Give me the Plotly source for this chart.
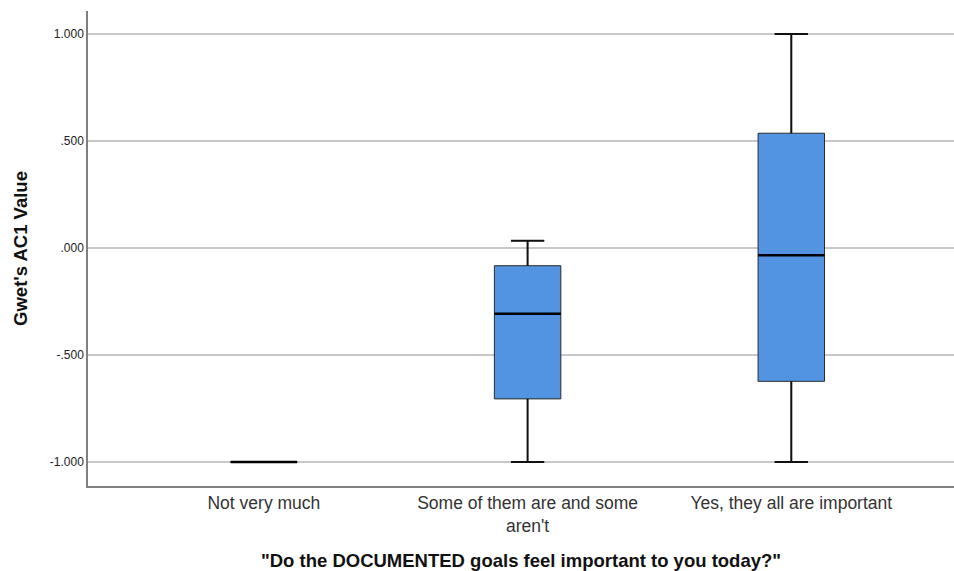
import plotly.graph_objects as go

# Response categories on the x axis
categories = ["Not very much", "Some of them are and some<br>aren't", "Yes, they all are important"]

# Five-number summaries of Gwet's AC1 per category
lower_fence = [-1.000, -1.000, -1.000]
q1 = [-1.000, -0.705, -0.623]
median = [-1.000, -0.307, -0.034]
q3 = [-1.000, -0.083, 0.536]
upper_fence = [-1.000, 0.034, 1.000]

# y-axis tick labels
y_ticks = [-1.0, -0.5, 0.0, 0.5, 1.0]
y_tick_text = ["-1.000", "-.500", ".000", ".500", "1.000"]

BOX_W = 0.252
CAP_W = BOX_W / 2
FONT = "Liberation Sans, Arial, sans-serif"

fig = go.Figure()
fig.add_trace(go.Box(
    x=categories,
    q1=q1, median=median, q3=q3,
    lowerfence=lower_fence, upperfence=upper_fence,
    width=BOX_W,
    whiskerwidth=0.5,
    fillcolor="#5294e2",
    line=dict(color="#2b2b2b", width=1),
    boxpoints=False,
    hoverinfo="skip",
    showlegend=False,
))

# Heavier whiskers, caps and median bars on top of the boxes
shapes = []
for i in range(len(categories)):
    line_w = dict(color="#111111", width=2)
    if upper_fence[i] > q3[i]:
        shapes.append(dict(type="line", xref="x", yref="y", x0=i, x1=i, y0=q3[i], y1=upper_fence[i], line=line_w))
        shapes.append(dict(type="line", xref="x", yref="y", x0=i - CAP_W / 2, x1=i + CAP_W / 2,
                           y0=upper_fence[i], y1=upper_fence[i], line=line_w))
    if lower_fence[i] < q1[i]:
        shapes.append(dict(type="line", xref="x", yref="y", x0=i, x1=i, y0=lower_fence[i], y1=q1[i], line=line_w))
        shapes.append(dict(type="line", xref="x", yref="y", x0=i - CAP_W / 2, x1=i + CAP_W / 2,
                           y0=lower_fence[i], y1=lower_fence[i], line=line_w))
    shapes.append(dict(type="line", xref="x", yref="y", x0=i - BOX_W / 2, x1=i + BOX_W / 2,
                       y0=median[i], y1=median[i], line=dict(color="#000000", width=2.5)))

fig.update_layout(
    width=954, height=571,
    margin=dict(l=88, r=0, t=11, b=85),
    paper_bgcolor="white",
    plot_bgcolor="white",
    font=dict(family=FONT, color="#222222"),
    shapes=shapes,
    xaxis=dict(
        type="category",
        range=[-0.667, 2.617],
        showline=True, linecolor="#808080", linewidth=1.5,
        showgrid=False, ticks="",
        tickfont=dict(size=17.5, color="#333333"),
        title=dict(text="\"Do the DOCUMENTED goals feel important to you today?\"",
                   font=dict(size=18.5, color="#111111", family=FONT, weight="bold"), standoff=21),
    ),
    yaxis=dict(
        range=[-1.112, 1.107],
        tickvals=y_ticks, ticktext=y_tick_text,
        tickfont=dict(size=12, color="#222222"),
        showline=True, linecolor="#808080", linewidth=1.5,
        showgrid=True, gridcolor="#c8c8c8", gridwidth=1.5,
        zeroline=False, ticks="",
        title=dict(text="Gwet's AC1 Value",
                   font=dict(size=18.5, color="#111111", family=FONT, weight="bold"), standoff=17),
    ),
)

fig.write_html("out.html")
